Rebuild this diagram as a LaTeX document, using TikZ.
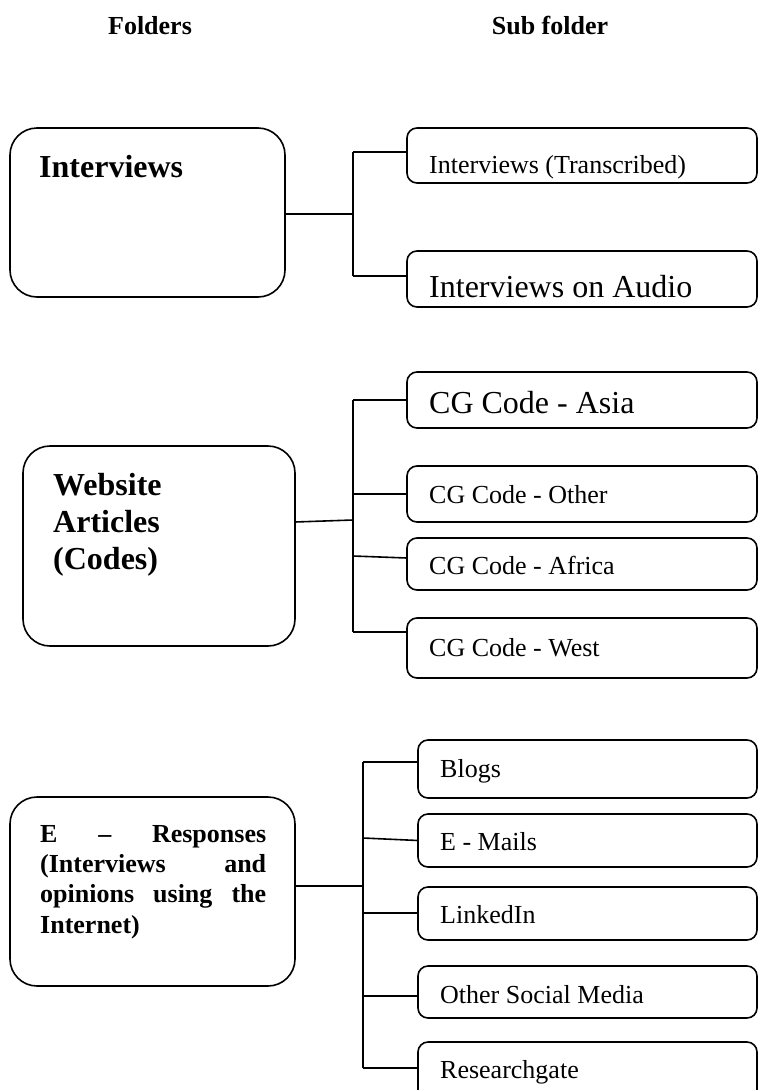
\documentclass[tikz,border=0pt]{standalone}
\usepackage{fontspec}
\setmainfont{Liberation Serif}
\newcommand{\smallfs}{\fontsize{26}{30}\selectfont}
\newcommand{\bigfs}{\fontsize{32}{37}\selectfont}
\begin{document}
\begin{tikzpicture}[x=1pt,y=-1pt,
  mainbox/.style={draw,line width=1.6pt,rounded corners=27pt,inner sep=0pt,outer sep=0pt},
  subbox/.style={draw,line width=1.6pt,rounded corners=10pt,inner sep=0pt,outer sep=0pt},
  conn/.style={line width=1.6pt},
  lab/.style={anchor=base west,inner sep=0pt},
  hdr/.style={anchor=base,inner sep=0pt,font=\smallfs\bfseries}]
\useasboundingbox (0,0) rectangle (758,1090);
\clip (0,0) rectangle (758,1090);
\fill[white] (0,0) rectangle (758,1090);

% headers
\node[hdr] (h1) at (150,34) {Folders};
\node[hdr] (h2) at (550,34) {Sub folder};

% ---------- group 1 ----------
\node[mainbox,minimum width=275pt,minimum height=169pt] (f1) at (147.5,212.5) {};
\node[lab,font=\bigfs\bfseries] (t1) at (39,177) {Interviews};
\node[subbox,minimum width=350pt,minimum height=55pt] (s11) at (582,155.5) {};
\node[subbox,minimum width=350pt,minimum height=56pt] (s12) at (582,279) {};
\node[lab,font=\smallfs] (t11) at (429,173) {Interviews (Transcribed)};
\node[lab,font=\bigfs] (t12) at (429,297) {Interviews on Audio};
\coordinate (a1) at (353,152);
\coordinate (b1) at (353,276);
\coordinate (m1) at (353,214);
\draw[conn] (a1) -- (b1);
\draw[conn] (f1.east |- m1) -- (m1);
\draw[conn] (a1) -- (s11.west |- a1);
\draw[conn] (b1) -- (s12.west |- b1);

% ---------- group 2 ----------
\node[mainbox,minimum width=272pt,minimum height=200pt] (f2) at (159,546) {};
\node[lab,font=\bigfs\bfseries] (t2a) at (53,495) {Website};
\node[lab,font=\bigfs\bfseries] (t2b) at (53,532) {Articles};
\node[lab,font=\bigfs\bfseries] (t2c) at (53,569) {(Codes)};
\node[subbox,minimum width=350pt,minimum height=56pt] (s21) at (582,400) {};
\node[subbox,minimum width=350pt,minimum height=56pt] (s22) at (582,494) {};
\node[subbox,minimum width=350pt,minimum height=52pt] (s23) at (582,564) {};
\node[subbox,minimum width=350pt,minimum height=60pt] (s24) at (582,648) {};
\node[lab,font=\bigfs] (t21) at (429,413) {CG Code - Asia};
\node[lab,font=\smallfs] (t22) at (429,503) {CG Code - Other};
\node[lab,font=\smallfs] (t23) at (429,574) {CG Code - Africa};
\node[lab,font=\smallfs] (t24) at (429,656) {CG Code - West};
\coordinate (a2) at (353,400);
\coordinate (b2) at (353,632);
\coordinate (m2) at (353,520);
\coordinate (c2) at (353,556);
\draw[conn] (a2) -- (b2);
\draw[conn] ([yshift=-2pt]f2.east |- m2) -- (m2);
\draw[conn] (a2) -- (s21.west |- a2);
\draw[conn] (s22.west -| a2) -- (s22.west);
\draw[conn] (c2) -- ([yshift=6pt]s23.west);
\draw[conn] (b2) -- (s24.west |- b2);

% ---------- group 3 ----------
\node[mainbox,minimum width=285pt,minimum height=189pt] (f3) at (152.5,891.5) {};
\node[lab,font=\smallfs\bfseries] (t3a) at (40,842) {\hbox to 226pt{E\hfill–\hfill Responses}};
\node[lab,font=\smallfs\bfseries] (t3b) at (40,872) {\hbox to 226pt{(Interviews\hfill and}};
\node[lab,font=\smallfs\bfseries] (t3c) at (40,902) {\hbox to 226pt{opinions\hfill using\hfill the}};
\node[lab,font=\smallfs\bfseries] (t3d) at (40,933) {Internet)};
\node[subbox,minimum width=339pt,minimum height=58pt] (s31) at (587.5,769) {};
\node[subbox,minimum width=339pt,minimum height=53pt] (s32) at (587.5,840.5) {};
\node[subbox,minimum width=339pt,minimum height=53pt] (s33) at (587.5,913.5) {};
\node[subbox,minimum width=339pt,minimum height=52pt] (s34) at (587.5,992) {};
\node[subbox,minimum width=339pt,minimum height=58pt] (s35) at (587.5,1071) {};
\node[lab,font=\smallfs] (t31) at (440,777) {Blogs};
\node[lab,font=\smallfs] (t32) at (440,850) {E - Mails};
\node[lab,font=\smallfs] (t33) at (440,923) {LinkedIn};
\node[lab,font=\smallfs] (t34) at (440,1003) {Other Social Media};
\node[lab,font=\smallfs] (t35) at (440,1078) {Researchgate};
\coordinate (a3) at (363,762);
\coordinate (b3) at (363,1068);
\coordinate (m3) at (363,886);
\coordinate (c3) at (363,838);
\coordinate (e3) at (363,913);
\coordinate (d3) at (363,996);
\draw[conn] (a3) -- (b3);
\draw[conn] (f3.east |- m3) -- (m3);
\draw[conn] (a3) -- (s31.west |- a3);
\draw[conn] (c3) -- (s32.west);
\draw[conn] (e3) -- (s33.west |- e3);
\draw[conn] (d3) -- (s34.west |- d3);
\draw[conn] (b3) -- (s35.west |- b3);
\end{tikzpicture}
\end{document}
